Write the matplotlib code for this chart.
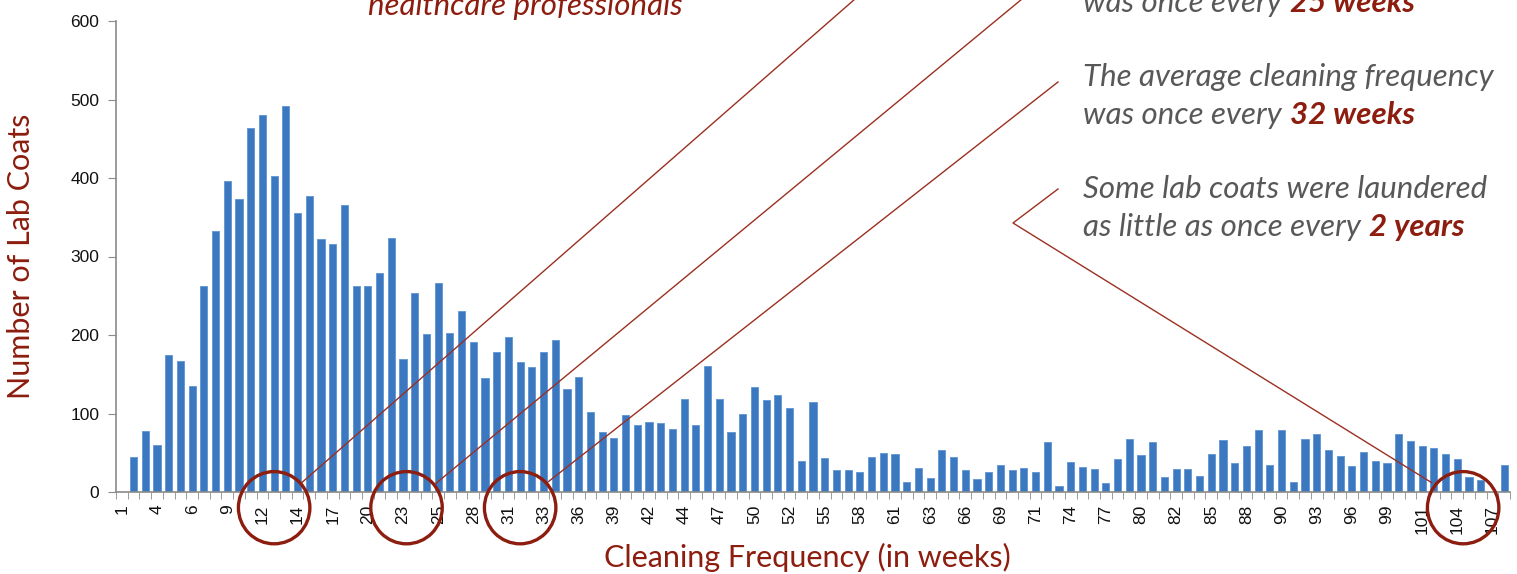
import numpy as np
import matplotlib.pyplot as plt
from matplotlib.patches import Ellipse
from matplotlib.lines import Line2D

#  CONFIG
W, H = 1517, 574
BLUE     = "#3B78BF"
RED      = "#8C1D0F"
LINE_RED = "#9B3022"
GREY     = "#585858"
AXIS     = "#8A8A8A"
FONT     = "Lato"
NOTE_FS  = 22.5

#  DATA (number of lab coats per cleaning-frequency category)
counts = [
    0, 45, 78, 60, 175, 167, 135, 263, 333, 396,
    373, 464, 480, 403, 492, 355, 377, 322, 316, 365,
    262, 263, 279, 323, 169, 254, 201, 266, 202, 230,
    191, 145, 178, 197, 165, 159, 178, 194, 131, 146,
    102, 76, 69, 98, 85, 89, 88, 80, 118, 85,
    161, 118, 76, 99, 134, 117, 124, 107, 39, 115,
    43, 28, 28, 25, 45, 50, 48, 13, 31, 18,
    53, 45, 28, 17, 25, 35, 28, 31, 25, 64,
    8, 38, 32, 29, 11, 42, 68, 47, 64, 19,
    29, 29, 20, 48, 66, 37, 59, 79, 34, 79,
    13, 68, 74, 53, 46, 33, 51, 39, 37, 74,
    65, 59, 56, 48, 42, 19, 15, 0, 34,
]
tick_labels = [
    "1", "4", "6", "9", "12", "14", "17", "20", "23", "25",
    "28", "31", "33", "36", "39", "42", "44", "47", "50", "52",
    "55", "58", "61", "63", "66", "69", "71", "74", "77", "80",
    "82", "85", "88", "90", "93", "96", "99", "101", "104", "107",
]
circled = [13, 24.3, 34, 114.5]   # category positions that are circled


def px(x, y):
    # figure pixel (from top-left) -> figure fraction
    return x / W, 1 - y / H


#  FIGURE
fig = plt.figure(figsize=(W / 100, H / 100), dpi=100)
ax = fig.add_axes([116 / W, 1 - 492 / H, (1510 - 116) / W, (492 - 21) / H])

x = np.arange(len(counts))
ax.bar(x, counts, width=0.6, color=BLUE, edgecolor="#5E95D4", linewidth=0.6)

ax.set_xlim(-0.5, len(counts) - 0.5)
ax.set_ylim(0, 600)
ax.set_yticks(range(0, 601, 100))
ax.set_xticks(x[::3])
ax.set_xticklabels(tick_labels, rotation=90)
ax.set_xticks(np.arange(-0.5, len(counts)), minor=True)

ax.tick_params(axis="x", which="major", length=0, pad=9, labelsize=12.5)
ax.tick_params(axis="x", which="minor", length=5, color=AXIS)
ax.tick_params(axis="y", length=6, color=AXIS, labelsize=12.5, pad=6)
for lab in ax.get_xticklabels() + ax.get_yticklabels():
    lab.set_family("Liberation Sans")
    lab.set_color("#111111")

for s in ("top", "right"):
    ax.spines[s].set_visible(False)
for s in ("left", "bottom"):
    ax.spines[s].set_color(AXIS)
    ax.spines[s].set_linewidth(1.2)

ax.set_ylabel("Number of Lab Coats", color=RED, fontsize=22, family=FONT,
              va="center", ha="center")
ax.set_xlabel("Cleaning Frequency (in weeks)", color=RED, fontsize=22,
              family=FONT, va="center", ha="center")
ax.yaxis.set_label_coords(-0.068, 0.5)
ax.xaxis.set_label_coords(0.496, -0.138)

#  CIRCLES round the highlighted labels
for c in circled:
    ax.add_patch(Ellipse((c, -20), width=6.1, height=92, fill=False,
                         ec=RED, lw=2.4, clip_on=False, zorder=5))

#  CONNECTOR LINES
lines = [
    [(301.7, 482.7), (855, -1)],
    [(436, 483.3), (1022, -1)],
    [(548.3, 481.7), (1058, 82)],
    [(1058, 189), (1013, 223), (1431.7, 482.7)],
]
for pts in lines:
    xs, ys = zip(*[px(*p) for p in pts])
    fig.add_artist(Line2D(xs, ys, transform=fig.transFigure,
                          color=LINE_RED, lw=1.0))

#  ANNOTATION TEXTS
fig.text(*px(368, 15), "healthcare professionals", color=RED, fontsize=NOTE_FS,
         style="italic", family=FONT, va="baseline", ha="left")

blocks = [
    (12,  None,                             "was once every", "25 weeks"),
    (86,  "The average cleaning frequency", None,             None),
    (124, None,                             "was once every", "32 weeks"),
    (198, "Some lab coats were laundered",  None,             None),
    (236, None,                  "as little as once every",   "2 years"),
]
for yb, full, lead, hl in blocks:
    if full:
        fig.text(*px(1083, yb), full, color=GREY, fontsize=NOTE_FS,
                 style="italic", family=FONT, va="baseline", ha="left")
    else:
        t = fig.text(*px(1083, yb), lead, color=GREY, fontsize=NOTE_FS,
                     style="italic", family=FONT, va="baseline", ha="left")
        ax.annotate(hl, xy=(1, 0), xycoords=t, xytext=(6, 0),
                    textcoords="offset points", color=RED, fontsize=NOTE_FS,
                    style="italic", weight="bold", family=FONT,
                    va="bottom", ha="left", annotation_clip=False)

fig.savefig("out.png", dpi=100)
